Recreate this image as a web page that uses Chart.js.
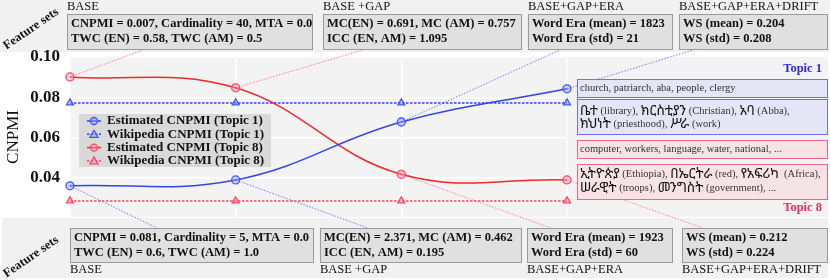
<!DOCTYPE html>
<html><head><meta charset="utf-8">
<script src="https://cdn.jsdelivr.net/npm/chart.js@4"></script>
<style>html,body{margin:0;padding:0;background:#fff}#wrap{width:830px;height:280px;position:relative}</style>
</head><body><div id="wrap"><canvas id="c" width="830" height="280"></canvas></div>
<script>
const featureSets = ['BASE', 'BASE +GAP', 'BASE+GAP+ERA', 'BASE+GAP+ERA+DRIFT'];
const estimatedTopic1 = [0.0360, 0.0389, 0.0677, 0.0842];
const wikipediaTopic1 = [0.0772, 0.0772, 0.0772, 0.0772];
const estimatedTopic8 = [0.0901, 0.0847, 0.0417, 0.0389];
const wikipediaTopic8 = [0.0285, 0.0285, 0.0285, 0.0285];
const yTicks = [0.04, 0.06, 0.08, 0.10];
const seriesNames = ['Estimated CNPMI (Topic 1)', 'Wikipedia CNPMI (Topic 1)', 'Estimated CNPMI (Topic 8)', 'Wikipedia CNPMI (Topic 8)'];
const topFeatureText = [
  ['CNPMI = 0.007, Cardinality = 40, MTA = 0.0', 'TWC (EN) = 0.58, TWC (AM) = 0.5'],
  ['MC(EN) = 0.691, MC (AM) = 0.757', 'ICC (EN, AM) = 1.095'],
  ['Word Era (mean) = 1823', 'Word Era (std) = 21'],
  ['WS (mean) = 0.204', 'WS (std) = 0.208']];
const bottomFeatureText = [
  ['CNPMI = 0.081, Cardinality = 5, MTA = 0.0', 'TWC (EN) = 0.6, TWC (AM) = 1.0'],
  ['MC(EN) = 2.371, MC (AM) = 0.462', 'ICC (EN, AM) = 0.195'],
  ['Word Era (mean) = 1923', 'Word Era (std) = 60'],
  ['WS (mean) = 0.212', 'WS (std) = 0.224']];
const topic1Words = ['church, patriarch, aba, people, clergy'];
const topic1Amharic = ['ቤተ (library), ክርስቲያን (Christian), አባ (Abba),', 'ክህነት (priesthood), ሥራ (work)'];
const topic8Words = ['computer, workers, language, water, national, ...'];
const topic8Amharic = ['ኢትዮጵያ (Ethiopia), በኤርትራ (red), የአፍሪካ  (Africa),', 'ሠራዊት (troops), መንግስት (government), ...'];
const topicLabels = ['Topic 1', 'Topic 8'];
const sideLabel = 'Feature sets';

const BLUE = '#3344ee', RED = '#ee2a2a', PINK = '#ff4466';
const BOLD = 'bold 12.5px "Liberation Serif"';
const REG = '10.5px "Liberation Serif"';

// decoration layout
const topBoxes = [[67,14,246,36],[323,14,199,36],[528,14,145,36],[679,14,149,36]];
const botBoxes = [[70,228,244,35],[320,228,202,35],[527,228,146,35],[682,228,146,35]];
const topAnchors = [[143,50],[363,50],[560,50],[693,50]];
const botAnchors = [[157,228],[368,228],[551,228],[703,228]];
// which series (0 = topic1 est, 2 = topic8 est) connects at each x
const topLinkSeries = [2, 2, 0, 0];
const botLinkSeries = [0, 0, 2, 2];

function drawMixed(ctx, text, x, y, latinFont, ethFont, color) {
  const parts = text.split(/([\u1200-\u139F]+)/);
  ctx.textBaseline = 'middle'; ctx.textAlign = 'left';
  for (const p of parts) {
    if (!p) continue;
    const eth = /[\u1200-\u139F]/.test(p);
    ctx.font = eth ? ethFont : latinFont;
    ctx.fillStyle = eth ? '#111' : color;
    ctx.fillText(p, x, y);
    x += ctx.measureText(p).width;
  }
}

const deco = {
  id: 'deco',
  beforeDraw(chart) {
    const ctx = chart.ctx, a = chart.chartArea;
    ctx.save();
    ctx.fillStyle = '#fff'; ctx.fillRect(0, 0, 830, 280);
    ctx.fillStyle = '#f1f1f1';
    ctx.fillRect(0, 0, 830, 52);
    ctx.fillRect(2, 218, 826, 60);
    ctx.fillStyle = '#f3f3f3';
    ctx.fillRect(a.left, a.top, 828 - a.left, a.bottom - a.top);
    ctx.restore();
  },
  beforeDatasetsDraw(chart) {
    const ctx = chart.ctx, xs = chart.scales.x, ys = chart.scales.y;
    ctx.save();
    ctx.lineWidth = 1; ctx.setLineDash([1.5, 1.5]);
    const draw = (links, anchors) => {
      links.forEach((s, i) => {
        const data = chart.data.datasets[s].data;
        ctx.strokeStyle = s === 0 ? '#7a7aff' : '#ff7aa0';
        ctx.beginPath();
        ctx.moveTo(xs.getPixelForValue(i), ys.getPixelForValue(data[i]));
        ctx.lineTo(anchors[i][0], anchors[i][1]);
        ctx.stroke();
      });
    };
    draw(topLinkSeries, topAnchors);
    draw(botLinkSeries, botAnchors);
    ctx.restore();
  },
  afterDraw(chart) {
    const ctx = chart.ctx;
    ctx.save();
    // feature boxes
    const boxes = (list, texts, labelDy) => {
      list.forEach((b, i) => {
        ctx.fillStyle = '#e0e0e0'; ctx.strokeStyle = '#9a9a9a'; ctx.lineWidth = 1;
        ctx.fillRect(b[0], b[1], b[2], b[3]);
        ctx.strokeRect(b[0] + 0.5, b[1] + 0.5, b[2] - 1, b[3] - 1);
        ctx.fillStyle = '#111'; ctx.font = BOLD; ctx.textBaseline = 'middle'; ctx.textAlign = 'left';
        ctx.fillText(texts[i][0], b[0] + 4, b[1] + 10);
        ctx.fillText(texts[i][1], b[0] + 4, b[1] + 25);
        ctx.font = '12.5px "Liberation Serif"';
        ctx.fillText(featureSets[i], b[0], labelDy < 0 ? b[1] + labelDy : b[1] + b[3] + labelDy);
      });
    };
    boxes(topBoxes, topFeatureText, -7);
    boxes(botBoxes, bottomFeatureText, 7);
    // rotated side labels
    [[31, 29], [31, 257]].forEach(p => {
      ctx.save(); ctx.translate(p[0], p[1]); ctx.rotate(-Math.PI / 5.2);
      ctx.font = 'bold 12.5px "Liberation Serif"'; ctx.fillStyle = '#111';
      ctx.textAlign = 'center'; ctx.textBaseline = 'middle';
      ctx.fillText(sideLabel, 0, 0); ctx.restore();
    });
    // topic boxes
    const tbox = (x, y, w, h, fill, stroke) => {
      ctx.fillStyle = fill; ctx.fillRect(x, y, w, h);
      ctx.strokeStyle = stroke; ctx.lineWidth = 1; ctx.strokeRect(x + 0.5, y + 0.5, w - 1, h - 1);
    };
    tbox(577, 79, 251, 19, '#e4e5f5', '#7070ee');
    tbox(577, 99, 251, 36, '#e4e5f5', '#7070ee');
    tbox(577, 140, 251, 19, '#f6e3e6', '#ee6688');
    tbox(577, 164, 251, 36, '#f6e3e6', '#ee6688');
    const lat = REG, eth = '13.5px "Noto Sans Ethiopic", "Abyssinica SIL", "Noto Sans", sans-serif';
    drawMixed(ctx, topic1Words[0], 580, 88.5, lat, eth, '#333');
    drawMixed(ctx, topic1Amharic[0], 580, 111, lat, eth, '#333');
    drawMixed(ctx, topic1Amharic[1], 580, 124, lat, eth, '#333');
    drawMixed(ctx, topic8Words[0], 580, 149.5, lat, eth, '#333');
    drawMixed(ctx, topic8Amharic[0], 580, 174, lat, eth, '#333');
    drawMixed(ctx, topic8Amharic[1], 580, 188, lat, eth, '#333');
    ctx.font = 'bold 12.5px "Liberation Serif"'; ctx.textAlign = 'right'; ctx.textBaseline = 'middle';
    ctx.fillStyle = '#2a2aee'; ctx.fillText(topicLabels[0], 822, 69);
    ctx.fillStyle = '#ee2a5a'; ctx.fillText(topicLabels[1], 822, 208);
    // legend
    ctx.fillStyle = 'rgba(214,214,214,0.9)';
    ctx.fillRect(79, 114, 192, 53);
    chart.data.datasets.forEach((ds, i) => {
      const y = 121 + i * 13.3;
      ctx.strokeStyle = ds.borderColor; ctx.lineWidth = 1.5;
      ctx.setLineDash(ds.borderDash || []);
      ctx.beginPath(); ctx.moveTo(87, y); ctx.lineTo(101, y); ctx.stroke();
      ctx.setLineDash([]);
      ctx.fillStyle = ds.pointBackgroundColor; ctx.strokeStyle = ds.pointBorderColor; ctx.lineWidth = 1.3;
      ctx.beginPath();
      if (ds.pointStyle === 'triangle') {
        ctx.moveTo(94, y - 4); ctx.lineTo(98, y + 3); ctx.lineTo(90, y + 3); ctx.closePath();
      } else {
        ctx.arc(94, y, 3.5, 0, Math.PI * 2);
      }
      ctx.fill(); ctx.stroke();
      ctx.fillStyle = '#111'; ctx.font = 'bold 13px "Liberation Serif"'; ctx.textAlign = 'left'; ctx.textBaseline = 'middle';
      ctx.fillText(seriesNames[i], 107, y);
    });
    ctx.restore();
  }
};

const common = { clip: false, borderWidth: 1.5, pointRadius: 4, pointBorderWidth: 1.3, pointHoverRadius: 4 };
new Chart(document.getElementById('c'), {
  type: 'line',
  data: {
    labels: featureSets,
    datasets: [
      Object.assign({}, common, { label: seriesNames[0], data: estimatedTopic1, borderColor: BLUE, pointBorderColor: '#4455ff', pointBackgroundColor: 'rgba(140,150,255,0.45)', pointStyle: 'circle', tension: 0.4 }),
      Object.assign({}, common, { label: seriesNames[1], data: wikipediaTopic1, borderColor: BLUE, borderDash: [2.5, 1.5], pointBorderColor: '#4455ff', pointBackgroundColor: 'rgba(140,150,255,0.45)', pointStyle: 'triangle' }),
      Object.assign({}, common, { label: seriesNames[2], data: estimatedTopic8, borderColor: RED, pointBorderColor: PINK, pointBackgroundColor: 'rgba(255,150,170,0.45)', pointStyle: 'circle', tension: 0.4 }),
      Object.assign({}, common, { label: seriesNames[3], data: wikipediaTopic8, borderColor: PINK, borderDash: [2.5, 1.5], pointBorderColor: PINK, pointBackgroundColor: 'rgba(255,150,170,0.45)', pointStyle: 'triangle' })
    ]
  },
  options: {
    responsive: false, animation: false, devicePixelRatio: 1,
    layout: { padding: { top: 57, right: 263, bottom: 63, left: 0 } },
    plugins: { legend: { display: false }, tooltip: { enabled: false } },
    scales: {
      x: {
        type: 'category', offset: false,
        grid: { color: '#ffffff', lineWidth: 1.5, drawTicks: false },
        border: { display: false },
        ticks: { display: false },
        afterFit(s) { s.height = 0; }
      },
      y: {
        min: 0.0205, max: 0.1,
        afterBuildTicks(s) { s.ticks = yTicks.map(v => ({ value: v })); },
        afterFit(s) { s.width = 70; },
        grid: { color: '#ffffff', lineWidth: 1.5, drawTicks: false },
        border: { display: false },
        ticks: { padding: 10, color: '#111', font: { family: 'Liberation Serif', weight: 'bold', size: 17 }, callback: v => v.toFixed(2) },
        title: { display: true, text: 'CNPMI', color: '#111', font: { family: 'Liberation Serif', size: 17 }, padding: { top: 3, bottom: 0 } }
      }
    }
  },
  plugins: [deco]
});
</script></body></html>
